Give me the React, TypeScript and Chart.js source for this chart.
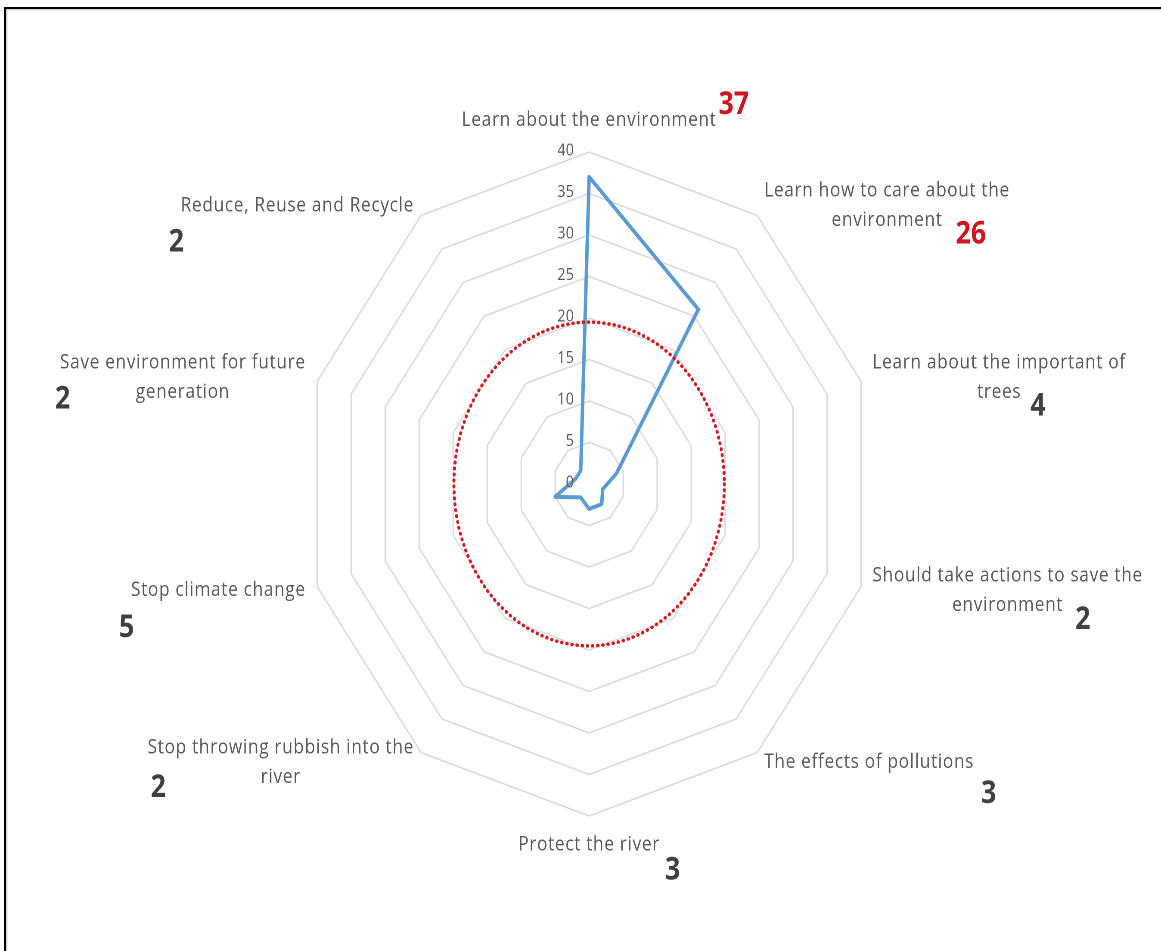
import React, { useEffect, useRef } from "react";
import { Chart, registerables } from "chart.js";

Chart.register(...registerables);

// ---------- data ----------
const CATEGORIES: string[][] = [
  ["Learn about the environment"],
  ["Learn how to care about the", "environment"],
  ["Learn about the important of", "trees"],
  ["Should take actions to save the", "environment"],
  ["The effects of pollutions"],
  ["Protect the river"],
  ["Stop throwing rubbish into the", "river"],
  ["Stop climate change"],
  ["Save environment for future", "generation"],
  ["Reduce, Reuse and Recycle"],
];
const VALUES: number[] = [37, 26, 4, 2, 3, 3, 2, 5, 2, 2];
const R_MIN = 0;
const R_MAX = 40;
const R_STEP = 5;
const CIRCLE_VALUE = 19.5; // red dotted reference circle
const HIGHLIGHT_ABOVE = 20; // values beyond the circle are shown in red

// ---------- layout / style ----------
const CANVAS_W = 1348;
const CANVAS_H = 951;
const SQUEEZE = 1161 / CANVAS_W;
const LABEL_FONT = '20px "Open Sans"';
const LABEL_SPACING = "0.8px";
const LABEL_LINE_H = 29.5;
const TICK_FONT = '16.5px "Open Sans"';
const NUMBER_FONT = 'bold 31px "Open Sans"';
const NUMBER_OFFSETS: [number, number][] = [
  [2, -15],
  [13, 14],
  [9, 14],
  [12, 15],
  [7, 32],
  [5, 26],
  [3, 11],
  [-12, 38],
  [-5, 7],
  [-12, 37],
];

const overlayPlugin = {
  id: "overlay",
  afterDatasetsDraw(chart: any) {
    const scale = chart.scales.r;
    const ctx: CanvasRenderingContext2D = chart.ctx;
    const cx = scale.xCenter;
    const cy = scale.yCenter;

    // red dotted circle
    const ry = scale.getDistanceFromCenterForValue(CIRCLE_VALUE);
    ctx.save();
    ctx.beginPath();
    ctx.ellipse(cx, cy, ry * 0.97, ry, 0, 0, Math.PI * 2);
    ctx.strokeStyle = "#d01c22";
    ctx.lineWidth = 3.5;
    ctx.setLineDash([0.5, 5.5]);
    ctx.lineCap = "round";
    ctx.stroke();
    ctx.restore();

    // tick labels (left of the axis)
    ctx.save();
    ctx.font = TICK_FONT;
    (ctx as any).letterSpacing = "0.3px";
    ctx.fillStyle = "#595959";
    ctx.textAlign = "right";
    ctx.textBaseline = "middle";
    scale.ticks.forEach((t: any) => {
      const d = scale.getDistanceFromCenterForValue(t.value);
      ctx.fillText(String(t.label), cx - 15 / SQUEEZE, cy - d - 1);
    });
    ctx.restore();

    // category labels + value numbers
    const n = CATEGORIES.length;
    for (let i = 0; i < n; i++) {
      const th = (i * 2 * Math.PI) / n;
      const s = Math.sin(th);
      const c = Math.cos(th);
      const v = scale.getPointPositionForValue(i, R_MAX);
      const ax = v.x + (12 * s) / SQUEEZE;
      const ay = v.y - 12 * c;
      const lines = CATEGORIES[i];
      ctx.save();
      ctx.font = LABEL_FONT;
      (ctx as any).letterSpacing = LABEL_SPACING;
      ctx.fillStyle = "#595959";
      ctx.textBaseline = "middle";
      ctx.textAlign = "center";
      const widths = lines.map((l) => ctx.measureText(l).width);
      const bw = Math.max(...widths);
      const bh = lines.length * LABEL_LINE_H;
      let left: number;
      let top: number;
      if (Math.abs(s) < 1e-6) {
        left = ax - bw / 2;
        top = c > 0 ? ay - 5 - bh : ay + 2;
      } else {
        left = s > 0 ? ax : ax - bw;
        top = ay - bh / 2;
      }
      lines.forEach((l, k) => {
        ctx.fillText(l, left + bw / 2, top + LABEL_LINE_H * (k + 0.5));
      });
      const lastW = widths[widths.length - 1];
      const lastY = top + LABEL_LINE_H * (lines.length - 0.5);
      const anchorX = s < -1e-6 ? left : left + bw / 2 + lastW / 2;
      const [dx, dy] = NUMBER_OFFSETS[i];
      ctx.font = NUMBER_FONT;
      (ctx as any).letterSpacing = "0px";
      ctx.textAlign = "left";
      ctx.fillStyle = VALUES[i] > HIGHLIGHT_ABOVE ? "#cc1620" : "#404040";
      ctx.fillText(String(VALUES[i]), anchorX + dx / SQUEEZE, lastY + dy);
      ctx.restore();
    }
  },
};

export default function App() {
  const canvasRef = useRef<HTMLCanvasElement | null>(null);

  useEffect(() => {
    document.body.style.margin = "0";
    document.body.style.background = "#ffffff";
    document.body.style.overflow = "hidden";
    const canvas = canvasRef.current;
    if (!canvas) return;
    const chart = new Chart(canvas, {
      type: "radar",
      data: {
        labels: CATEGORIES as any,
        datasets: [
          {
            data: VALUES,
            borderColor: "#5b9bd5",
            borderWidth: 4,
            pointRadius: 0,
            pointHoverRadius: 0,
            fill: false,
            tension: 0,
            borderJoinStyle: "round",
          } as any,
        ],
      },
      options: {
        responsive: true,
        maintainAspectRatio: false,
        animation: false,
        devicePixelRatio: 2,
        events: [],
        layout: { padding: { left: 352, right: 332, top: 152, bottom: 135 } },
        plugins: {
          legend: { display: false },
          tooltip: { enabled: false },
        },
        scales: {
          r: {
            min: R_MIN,
            max: R_MAX,
            ticks: { stepSize: R_STEP, display: false },
            grid: { color: "#d9d9d9", lineWidth: 1.5, circular: false },
            angleLines: { display: false },
            pointLabels: { display: false },
          },
        },
      },
      plugins: [overlayPlugin],
    });
    return () => chart.destroy();
  }, []);

  return (
    <div style={{ position: "fixed", left: 0, top: 0, width: 1161, height: 951, overflow: "hidden", background: "#fff" }}>
      <div
        style={{
          position: "absolute",
          left: 0,
          top: 0,
          width: CANVAS_W,
          height: CANVAS_H,
          transformOrigin: "0 0",
          transform: `scaleX(${SQUEEZE})`,
        }}
      >
        <canvas ref={canvasRef} />
      </div>
      <div
        style={{
          position: "absolute",
          left: 4,
          top: 7,
          width: 1200,
          height: 1000,
          borderLeft: "2px solid #000",
          borderTop: "2px solid #000",
          boxShadow: "inset 1px 1px 2px rgba(0,0,0,0.25)",
          pointerEvents: "none",
        }}
      />
    </div>
  );
}
